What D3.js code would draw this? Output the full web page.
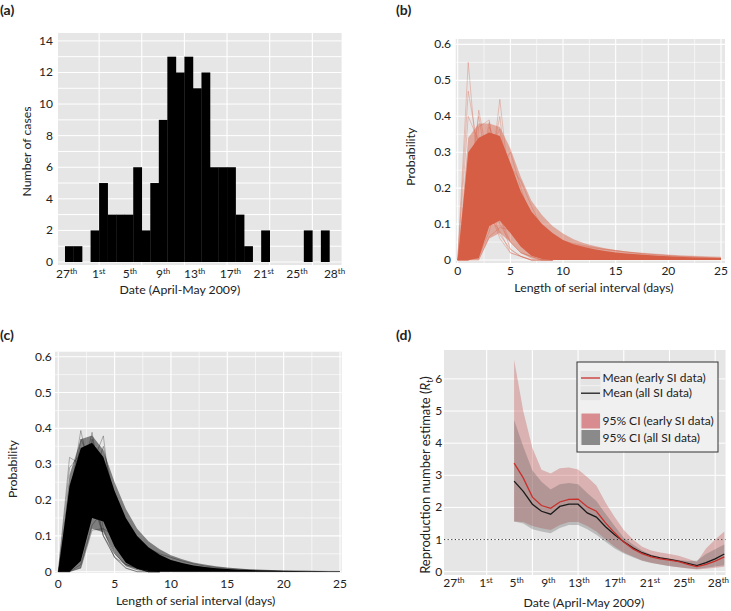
<!DOCTYPE html>
<html><head><meta charset="utf-8">
<script src="https://cdn.jsdelivr.net/npm/d3@7"></script>
<style>
body{margin:0;background:#fff}
text{font-family:Lato,"Open Sans",sans-serif;fill:#222}
</style>
</head><body><svg id="c" width="731" height="611"></svg>
<script>
// ---------------- DATA ----------------
// (a) daily case counts, starting 27 April 2009
const caseCounts = [1,1,0,2,5,3,3,3,6,2,5,9,13,12,13,11,12,6,6,6,3,1,0,2,0,0,0,0,2,0,2];
const caseTicks = [0,2,4,6,8,10,12,14];
const caseGrid = [0,1,2,3,4,5,6,7,8,9,10,11,12,13,14];
const dateGrid = [4,9,14,19,24,29];
const dateTickNums = ["27","1","5","9","13","17","21","25","28"];
const dateTickSfx  = ["th","st","th","th","th","th","st","th","th"];
const dateTickPosA = [0.2,3.95,7.6,11.5,15.2,19.4,23.3,27.2,31.6];
const dateTickPosD = [0.42,3.92,7.28,10.74,14.1,18.04,21.87,25.6,29.35];

// (b),(c) serial interval distributions
const siDays = [0,1,2,3,4,5,6,7,8,9,10,11,12,13,14,15,16,17,18,19,20,21,22,23,24,25];
const siTicks = [0,5,10,15,20,25];
const siMinor = [2.5,7.5,12.5,17.5,22.5];
const probTicks = [0,0.1,0.2,0.3,0.4,0.5,0.6];
const probMinor = [0.05,0.15,0.25,0.35,0.45,0.55];

// early SI data (b)
const earlyCoreUpper = [0,0.30,0.34,0.355,0.345,0.27,0.19,0.135,0.1,0.075,0.056,0.044,0.036,0.03,0.025,0.021,0.018,0.016,0.014,0.012,0.0105,0.009,0.008,0.007,0.006,0.0055];
const earlyCoreLower = [0,0,0.005,0.095,0.11,0.075,0.037,0.012,0.003,0,0,0,0,0,0,0,0,0,0,0,0,0,0,0,0,0];
const earlyFringeUpper = [0,0.34,0.38,0.38,0.37,0.31,0.23,0.165,0.125,0.095,0.074,0.058,0.047,0.039,0.033,0.028,0.024,0.021,0.018,0.016,0.014,0.012,0.011,0.009,0.008,0.007];
const earlyFringeLower = [0,0,0,0.06,0.075,0.05,0.02,0.004,0,0,0,0,0,0,0,0,0,0,0,0,0,0,0,0,0,0];
const earlyLines = [
  [0,0.55,0.21,0.12,0.08,0.02,0.01,0,0,0],
  [0,0.47,0.30,0.14,0.06,0.02,0.01,0,0,0],
  [0,0.40,0.33,0.16,0.07,0.03,0.01,0,0,0],
  [0,0.12,0.417,0.26,0.12,0.05,0.02,0.01,0,0],
  [0,0.20,0.40,0.22,0.10,0.05,0.02,0.01,0,0],
  [0,0.08,0.37,0.39,0.12,0.03,0.01,0,0,0],
  [0,0.05,0.22,0.385,0.2,0.08,0.04,0.02,0.01,0],
  [0,0.02,0.10,0.37,0.30,0.12,0.05,0.02,0.01,0],
  [0,0,0.05,0.20,0.447,0.18,0.08,0.03,0.01,0],
  [0,0,0.08,0.25,0.40,0.15,0.07,0.03,0.01,0],
  [0,0.01,0.12,0.30,0.365,0.13,0.05,0.02,0.01,0],
  [0,0,0.02,0.12,0.25,0.30,0.20,0.11,0.06,0.03],
  [0,0,0.01,0.08,0.2,0.26,0.22,0.15,0.09,0.05],
  [0,0,0,0.065,0.09,0.085,0.078,0.07,0.062,0.055,0.048,0.042,0.037,0.033,0.029,0.026,0.023,0.02,0.018,0.016,0.014,0.012,0.011,0.01,0.009,0.008],
  [0,0,0.02,0.1,0.14,0.12,0.1,0.085,0.072,0.062,0.053,0.046,0.04,0.035,0.03,0.026,0.022,0.019,0.016,0.014,0.012,0.01,0.009,0.008,0.007,0.006]
];

// all SI data (c)
const allCoreUpper = [0,0.24,0.345,0.36,0.32,0.225,0.15,0.1,0.068,0.047,0.033,0.024,0.017,0.013,0.01,0.0075,0.0058,0.0045,0.0035,0.0028,0.0022,0.0018,0.0014,0.0011,0.0009,0.0007];
const allCoreLower = [0,0,0.03,0.15,0.14,0.07,0.025,0.008,0.002,0,0,0,0,0,0,0,0,0,0,0,0,0,0,0,0,0];
const allFringeUpper = [0,0.27,0.37,0.38,0.34,0.25,0.175,0.12,0.085,0.063,0.046,0.035,0.026,0.02,0.015,0.012,0.009,0.007,0.0055,0.0045,0.0036,0.003,0.0024,0.002,0.0016,0.0013];
const allFringeLower = [0,0,0.01,0.12,0.11,0.05,0.015,0.004,0,0,0,0,0,0,0,0,0,0,0,0,0,0,0,0,0,0];
const allLines = [
  [0,0.319,0.30,0.2,0.1,0.05,0.02,0.01,0,0],
  [0,0.29,0.33,0.22,0.1,0.04,0.02,0.01,0,0],
  [0,0.2,0.394,0.25,0.1,0.04,0.01,0,0,0],
  [0,0.15,0.37,0.3,0.12,0.04,0.01,0,0,0],
  [0,0.05,0.25,0.389,0.2,0.08,0.03,0.01,0,0],
  [0,0.03,0.2,0.37,0.25,0.1,0.04,0.01,0,0],
  [0,0.01,0.15,0.30,0.379,0.12,0.04,0.01,0,0],
  [0,0,0.05,0.25,0.35,0.2,0.1,0.04,0.01,0],
  [0,0,0.01,0.116,0.12,0.10,0.08,0.06,0.045,0.035,0.027,0.02,0.015,0.011,0.008,0.006,0.0045,0.0035,0.0027,0.002,0.0015,0.0012,0.001,0.0008,0.0006,0.0005],
  [0,0,0.02,0.13,0.17,0.14,0.11,0.085,0.065,0.05,0.04,0.03,0.022,0.016,0.012,0.009,0.007,0.005,0.004,0.003,0.0024,0.0019,0.0015,0.0012,0.001,0.0008]
];

// (d) reproduction number estimates, day index 7..30
const rtDays = [7,8,9,10,11,12,13,14,15,16,17,18,19,20,21,22,23,24,25,26,27,28,29,30];
const rtEarlyMean  = [3.38,2.92,2.32,2.06,1.97,2.17,2.25,2.26,2.02,1.88,1.52,1.21,0.92,0.71,0.56,0.46,0.40,0.36,0.31,0.23,0.16,0.23,0.33,0.46];
const rtEarlyUpper = [6.6,5.0,3.85,3.17,3.06,3.22,3.24,3.18,2.95,2.68,2.15,1.7,1.3,1.0,0.78,0.66,0.6,0.55,0.5,0.4,0.3,0.72,1.0,1.25];
const rtEarlyLower = [1.56,1.55,1.42,1.35,1.3,1.45,1.55,1.55,1.42,1.25,1.0,0.78,0.6,0.47,0.35,0.28,0.22,0.18,0.14,0.1,0.07,0.09,0.12,0.15];
const rtAllMean  = [2.82,2.5,2.1,1.88,1.79,2.03,2.1,2.1,1.83,1.70,1.40,1.15,0.93,0.74,0.59,0.49,0.43,0.38,0.33,0.26,0.19,0.28,0.40,0.55];
const rtAllUpper = [4.72,3.9,3.15,2.8,2.56,2.72,2.76,2.72,2.45,2.2,1.8,1.42,1.06,0.85,0.66,0.53,0.45,0.4,0.36,0.33,0.34,0.55,0.7,0.85];
const rtAllLower = [1.56,1.5,1.32,1.25,1.2,1.36,1.45,1.45,1.32,1.15,0.93,0.72,0.57,0.45,0.34,0.27,0.22,0.17,0.14,0.11,0.08,0.12,0.16,0.2];
const rtTicks = [0,1,2,3,4,5,6];
const legendLabels = ["Mean (early SI data)","Mean (all SI data)","95% CI (early SI data)","95% CI (all SI data)"];

// ---------------- DRAW ----------------
const svg = d3.select("#c");
const BG = "#e6e6e6";
const ORANGE = "#d55e44";
const TITLE_FS = 12.3;

function panelBg(x0,y0,x1,y1){
  svg.append("rect").attr("x",x0).attr("y",y0).attr("width",x1-x0).attr("height",y1-y0).attr("fill",BG);
}
function vgrid(xs, vals, y0, y1, w){
  svg.append("g").selectAll("line").data(vals).join("line")
    .attr("x1",d=>xs(d)).attr("x2",d=>xs(d)).attr("y1",y0).attr("y2",y1)
    .attr("stroke","#fff").attr("stroke-width",w);
}
function hgrid(ys, vals, x0, x1, w){
  svg.append("g").selectAll("line").data(vals).join("line")
    .attr("y1",d=>ys(d)).attr("y2",d=>ys(d)).attr("x1",x0).attr("x2",x1)
    .attr("stroke","#fff").attr("stroke-width",w);
}
function yTickLabels(ys, vals, xr, fmt){
  svg.append("g").selectAll("text").data(vals).join("text")
    .attr("x",xr).attr("y",d=>ys(d)+4).attr("text-anchor","end")
    .attr("font-size",12).text(fmt);
}
function xTickLabels(xs, vals, yb, fmt){
  svg.append("g").selectAll("text").data(vals).join("text")
    .attr("x",d=>xs(d)).attr("y",yb).attr("text-anchor","middle")
    .attr("font-size",12).text(fmt);
}
function dateTicks(xs, pos, yb){
  const g = svg.append("g");
  pos.forEach((p,i)=>{
    const t = g.append("text").attr("x",xs(p)).attr("y",yb).attr("text-anchor","middle").attr("font-size",12);
    t.append("tspan").text(dateTickNums[i]);
    t.append("tspan").attr("font-size",8).attr("dy",-4).text(dateTickSfx[i]);
  });
}
function title(x,y,txt,rot){
  const t = svg.append("text").attr("x",x).attr("y",y).attr("text-anchor","middle").attr("font-size",TITLE_FS).text(txt);
  if(rot) t.attr("transform",`rotate(-90,${x},${y})`);
  return t;
}
function panelLabel(x,y,txt){
  svg.append("text").attr("x",x).attr("y",y).attr("font-size",14).attr("font-weight","bold").text(txt);
}

// ===== (a) =====
{
  const x = d3.scaleLinear().domain([-0.82,32.43]).range([58,341.6]);
  const y = d3.scaleLinear().domain([-0.19,14.5]).range([265,33]);
  panelBg(58,33,341.6,265);
  hgrid(y, caseGrid, 58, 341.6, 1);
  vgrid(x, dateGrid, 33, 265, 1.1);
  svg.append("g").selectAll("rect").data(caseCounts).join("rect")
    .attr("x",(d,i)=>x(i)).attr("width",(d,i)=>x(i+1)-x(i)+0.3)
    .attr("y",d=>y(d)).attr("height",d=>y(0)-y(d)).attr("fill","#000");
  yTickLabels(y, caseTicks, 53, d=>d);
  dateTicks(x, dateTickPosA, 277.5);
  title(180,294,"Date (April-May 2009)");
  title(31,151.5,"Number of cases",true);
  panelLabel(0,15,"(a)");
}

function siPanel(x0,x1,y0,y1,x,y,coreU,coreL,frU,frL,lines,color,lineColor,lineOp,frOp,titleX,titleY,xtY,ytX,ylabX,ylabY){
  panelBg(x0,y0,x1,y1);
  hgrid(y, probMinor, x0, x1, 0.6);
  hgrid(y, probTicks, x0, x1, 1.1);
  vgrid(x, siMinor, y0, y1, 0.6);
  vgrid(x, siTicks, y0, y1, 1.1);
  const area = (U,L)=>d3.area().x((d,i)=>x(siDays[i])).y0((d,i)=>y(L[i])).y1(d=>y(d))(U);
  svg.append("path").attr("d",area(frU,frL)).attr("fill",color).attr("opacity",frOp);
  const ln = d3.line().x((d,i)=>x(siDays[i])).y(d=>y(d));
  svg.append("g").selectAll("path").data(lines).join("path")
    .attr("d",ln).attr("fill","none").attr("stroke",lineColor).attr("stroke-width",0.8).attr("opacity",lineOp);
  svg.append("path").attr("d",area(coreU,coreL)).attr("fill",color);
  yTickLabels(y, probTicks, ytX, d=>d===0?"0":d3.format(".1f")(d));
  xTickLabels(x, siTicks, xtY, d=>d);
  title(titleX,titleY,"Length of serial interval (days)");
  title(ylabX,ylabY,"Probability",true);
}

// ===== (b) =====
{
  const x = d3.scaleLinear().domain([-0.19,25.38]).range([455.7,725]);
  const y = d3.scaleLinear().domain([-0.0083,0.615]).range([263,39]);
  siPanel(455.7,725,39,263,x,y,earlyCoreUpper,earlyCoreLower,earlyFringeUpper,earlyFringeLower,earlyLines,ORANGE,ORANGE,0.4,0.45,594,291.5,275,451,415,156.7);
  panelLabel(396,15,"(b)");
}
// ===== (c) =====
{
  const x = d3.scaleLinear().domain([-0.29,25.15]).range([55,341.7]);
  const y = d3.scaleLinear().domain([-0.0036,0.614]).range([573,351.7]);
  siPanel(55,341.7,351.7,573,x,y,allCoreUpper,allCoreLower,allFringeUpper,allFringeLower,allLines,"#000","#000",0.35,0.45,195.6,604.5,588,51.7,17,469);
  panelLabel(0,340,"(c)");
}

// ===== (d) =====
{
  const x = d3.scaleLinear().domain([-0.67,30.13]).range([444,725.5]);
  const y = d3.scaleLinear().domain([-0.103,6.9]).range([575,350]);
  panelBg(444,350,725.5,575);
  hgrid(y, rtTicks, 444, 725.5, 1);
  vgrid(x, dateGrid, 350, 575, 1.1);
  const band = (U,L)=>d3.area().x((d,i)=>x(rtDays[i])).y0((d,i)=>y(L[i])).y1(d=>y(d))(U);
  svg.append("path").attr("d",band(rtEarlyUpper,rtEarlyLower)).attr("fill","#c0504d").attr("opacity",0.35);
  svg.append("path").attr("d",band(rtAllUpper,rtAllLower)).attr("fill","#555").attr("opacity",0.3);
  svg.append("line").attr("x1",444).attr("x2",725.5).attr("y1",y(1)).attr("y2",y(1))
    .attr("stroke","#333").attr("stroke-width",1).attr("stroke-dasharray","1.2,2.4");
  const ln = d3.line().x((d,i)=>x(rtDays[i])).y(d=>y(d));
  svg.append("path").attr("d",ln(rtAllMean)).attr("fill","none").attr("stroke","#1a1a1a").attr("stroke-width",1.3);
  svg.append("path").attr("d",ln(rtEarlyMean)).attr("fill","none").attr("stroke","#c9302c").attr("stroke-width",1.3);
  yTickLabels(y, rtTicks, 442.3, d=>d);
  dateTicks(x, dateTickPosD, 587);
  title(584,606.5,"Date (April-May 2009)");
  const t = svg.append("text").attr("x",430).attr("y",475).attr("text-anchor","middle").attr("font-size",13)
    .attr("transform","rotate(-90,430,475)");
  t.append("tspan").text("Reproduction number estimate (");
  t.append("tspan").attr("font-style","italic").text("R");
  t.append("tspan").attr("font-size",9).attr("dy",3).text("t");
  t.append("tspan").attr("dy",-3).text(")");
  // legend
  const lg = svg.append("g");
  lg.append("rect").attr("x",577).attr("y",362).attr("width",141).attr("height",90)
    .attr("fill","#f0f0f0").attr("stroke","#333").attr("stroke-width",1);
  const keyY = [378,393.2,421,437.5];
  keyY.forEach((ky,i)=>{
    lg.append("rect").attr("x",580.5).attr("y",ky-7).attr("width",20).attr("height",14).attr("fill","#e4e4e4");
  });
  lg.append("line").attr("x1",581).attr("x2",600).attr("y1",keyY[0]).attr("y2",keyY[0]).attr("stroke","#c9302c").attr("stroke-width",1.3);
  lg.append("line").attr("x1",581).attr("x2",600).attr("y1",keyY[1]).attr("y2",keyY[1]).attr("stroke","#1a1a1a").attr("stroke-width",1.3);
  lg.append("rect").attr("x",581.5).attr("y",keyY[2]-7.5).attr("width",18.5).attr("height",15).attr("fill","#d98c8f");
  lg.append("rect").attr("x",581.5).attr("y",keyY[3]-7.5).attr("width",18.5).attr("height",15).attr("fill","#8a8a8a");
  lg.selectAll("text.l").data(legendLabels).join("text").attr("class","l")
    .attr("x",602.5).attr("y",(d,i)=>keyY[i]+4.2).attr("font-size",12).text(d=>d);
  panelLabel(396,340,"(d)");
}
</script></body></html>
